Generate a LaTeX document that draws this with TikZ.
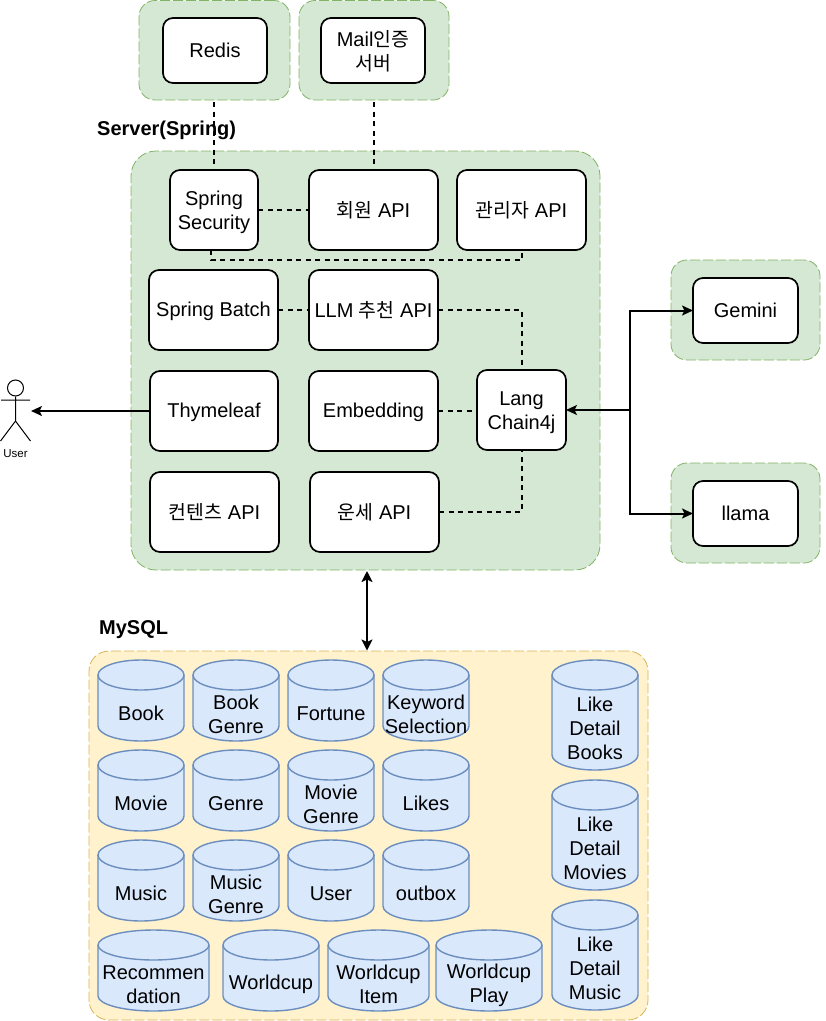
\documentclass[tikz,border=0pt]{standalone}
\usepackage{fontspec}
\setmainfont{Liberation Sans}
\newfontfamily\kr[Scale=0.97]{Noto Sans CJK KR}
\usetikzlibrary{arrows.meta,calc}
\pgfdeclarelayer{gzero}\pgfdeclarelayer{gone}\pgfdeclarelayer{gtwo}
\pgfsetlayers{gzero,gone,gtwo,main}
\definecolor{grpfill}{HTML}{D5E8D4}
\definecolor{grpline}{HTML}{82B366}
\definecolor{dbfill}{HTML}{FFF2CC}
\definecolor{dbline}{HTML}{D6B656}
\definecolor{cylfill}{HTML}{DAE8FC}
\definecolor{cylline}{HTML}{6C8EBF}
\newcommand{\lnstrutA}{\rule{0pt}{17pt}}
\newcommand{\lnstrutB}{\rule[-3pt]{0pt}{3pt}}
\newcommand{\ml}{\rule{0pt}{18.75pt}}
\tikzset{
  txt/.style={font=\fontsize{20}{24}\selectfont,align=center,inner sep=0pt,
    execute at begin node=\lnstrutA, execute at end node=\lnstrutB},
  boxnode/.style={txt,draw=black,fill=white,line width=1.7pt,rounded corners=10pt,outer sep=0pt},
  grp/.style={draw=grpline,fill=grpfill,line width=0.8pt,dash pattern=on 10pt off 3pt,rounded corners=16pt,inner sep=0pt,outer sep=0pt},
  dbgrp/.style={grp,draw=dbline,fill=dbfill},
  link/.style={line width=2pt,dash pattern=on 5pt off 4.5pt},
  arrow/.style={line width=2pt,-{Stealth[length=11pt,width=10pt,inset=2.5pt]}},
  cyl/.style={draw=cylline,fill=cylfill,line width=1.4pt},
  title/.style={font=\fontsize{20}{24}\selectfont\bfseries,inner sep=0pt,anchor=west},
}
\newcommand{\bx}[6]{\node[boxnode,minimum width=#4pt-#2pt,minimum height=#5pt-#3pt] (#1) at ({(#2+#4)/2},{(#3+#5)/2}) {#6};}
\newcommand{\grpbox}[6]{\node[#6,minimum width=#4pt-#2pt,minimum height=#5pt-#3pt] (#1) at ({(#2+#4)/2},{(#3+#5)/2}) {};}
\newcommand{\cylnode}[6]{%
  \path[cyl] (#2,#3+15) arc[start angle=180,end angle=0,x radius={(#4-#2)/2*1pt},y radius=15pt]
     -- (#4,#5-15) arc[start angle=0,end angle=-180,x radius={(#4-#2)/2*1pt},y radius=15pt] -- cycle;
  \draw[cyl,fill=none] (#2,#3+15) arc[start angle=180,end angle=360,x radius={(#4-#2)/2*1pt},y radius=15pt];
  \node[txt] (#1) at ({(#2+#4)/2},{(#3+#5+30)/2-2}) {#6};}
\begin{document}
\begin{tikzpicture}[x=1pt,y=-1pt]
\useasboundingbox (0,0) rectangle (826,1021);
% groups
\begin{pgfonlayer}{gzero}
  \node[grp,rounded corners=25pt,minimum width=469pt,minimum height=419pt] (server) at (365.5,360.5) {};
  \node[title] (servertitle) at (97,130) {Server(Spring)};
\end{pgfonlayer}
\begin{pgfonlayer}{gtwo}
  \grpbox{redisg}{139}{0.5}{290}{100}{grp}
  \grpbox{mailg}{299}{0.5}{449}{100}{grp}
\end{pgfonlayer}
\grpbox{geminig}{671}{260}{820}{360}{grp}
\grpbox{llamag}{671}{463}{820}{563}{grp}
\node[dbgrp,rounded corners=20pt,minimum width=559pt,minimum height=369pt] (mysql) at (368.5,835.5) {};
\node[title] (mysqltitle) at (99,630) {MySQL};
% boxes
\bx{redis}{163}{18}{267}{83}{Redis}
\bx{mail}{321}{18}{425}{83}{\ml Mail{\kr 인증}\\{\kr 서버}}
\bx{sec}{170}{170}{258}{250}{\ml Spring\\Security}
\bx{member}{309}{170}{438}{250}{{\kr 회원} API}
\bx{admin}{457}{170}{586}{250}{{\kr 관리자} API}
\bx{batch}{149}{270}{278}{350}{Spring Batch}
\bx{llm}{309}{270}{438}{350}{LLM {\kr 추천} API}
\bx{thyme}{150}{371}{278}{451}{Thymeleaf}
\bx{embed}{309}{371}{438}{451}{Embedding}
\bx{lang}{477}{370}{566}{450}{\ml Lang\\Chain4j}
\bx{content}{150}{472}{279}{552}{{\kr 컨텐츠} API}
\bx{fortune}{310}{472}{439}{552}{{\kr 운세} API}
\bx{gemini}{693}{278}{798}{343}{Gemini}
\bx{llama}{693}{481}{798}{546}{llama}
% dashed connectors
\begin{pgfonlayer}{gone}
  \draw[link] (redis.south -| sec.north) -- (sec.north);
  \draw[link] (mail.south -| member.north) -- (member.north);
\end{pgfonlayer}
\draw[link] (sec.east) -- (member.west);
\draw[link] ([xshift=-3pt]sec.south) -- ++(0,10) -| (admin.south);
\draw[link] (batch.east) -- (llm.west);
\draw[link] (llm.east) -| (lang.north);
\draw[link] (embed.east) -- (embed.east -| lang.west);
\draw[link] (fortune.east) -| (lang.south);
% actor
\node[circle,draw=black,line width=1pt,minimum size=16pt,inner sep=0pt] (userhead) at (15.5,388) {};
\coordinate (usertorso) at (15.5,421);
\coordinate (userarml) at (1,400);
\coordinate (userarmr) at (30,400);
\coordinate (userlegl) at (0.5,441);
\coordinate (userlegr) at (30.5,441);
\draw[line width=1pt] (userhead.south) -- (usertorso) (userarml) -- (userarmr) (userlegl) -- (usertorso) -- (userlegr);
\node[font=\fontsize{11.5}{14}\selectfont,inner sep=0pt] (userlabel) at (15.5,453.5) {User};
\coordinate (userhand) at (31,411);
% arrows
\draw[arrow] (thyme.west) -- (thyme.west -| userhand);
\coordinate (junction) at (630,410);
\draw[arrow] (junction) -- (lang.east);
\draw[arrow] (junction) |- (gemini.west);
\draw[arrow] (junction) |- (llama.west);
\coordinate (dbtop) at (367,571);
\coordinate (dbbot) at (367,650.5);
\draw[line width=2pt,{Stealth[length=11pt,width=11pt,inset=2.5pt]}-{Stealth[length=11pt,width=11pt,inset=2.5pt]}] (dbtop) -- (dbbot);
% cylinders
\cylnode{c1}{98}{660}{184}{741}{Book}
\cylnode{c2}{193}{660}{279}{741}{\ml Book\\Genre}
\cylnode{c3}{288}{660}{374}{741}{Fortune}
\cylnode{c4}{383}{660}{469}{741}{\ml Keyword\\Selection}
\cylnode{c5}{98}{750}{184}{831}{Movie}
\cylnode{c6}{193}{750}{279}{831}{Genre}
\cylnode{c7}{288}{750}{374}{831}{\ml Movie\\Genre}
\cylnode{c8}{383}{750}{469}{831}{Likes}
\cylnode{c9}{98}{840}{184}{921}{Music}
\cylnode{c10}{193}{840}{279}{921}{\ml Music\\Genre}
\cylnode{c11}{288}{840}{374}{921}{User}
\cylnode{c12}{383}{840}{469}{921}{outbox}
\cylnode{c13}{98}{930}{209}{1011}{\ml Recommen\\dation}
\cylnode{c14}{223}{930}{319}{1011}{Worldcup}
\cylnode{c15}{328}{930}{429}{1011}{\ml Worldcup\\Item}
\cylnode{c16}{436}{930}{542}{1011}{\ml Worldcup\\Play}
\cylnode{c17}{552}{660}{638}{770}{\ml Like\\Detail\\Books}
\cylnode{c18}{552}{780}{638}{890}{\ml Like\\Detail\\Movies}
\cylnode{c19}{552}{900}{638}{1010}{\ml Like\\Detail\\Music}
\end{tikzpicture}
\end{document}
